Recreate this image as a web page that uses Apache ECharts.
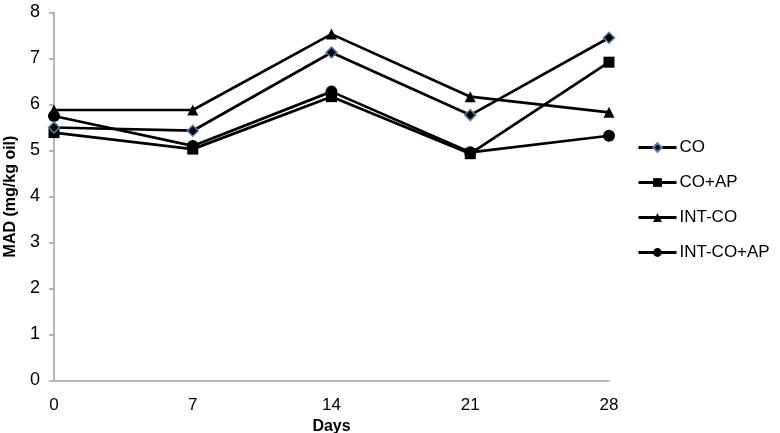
<!DOCTYPE html>
<html><head><meta charset="utf-8">
<script src="https://cdn.jsdelivr.net/npm/echarts@6/dist/echarts.min.js"></script>
<style>html,body{margin:0;padding:0;background:#fff}#c{width:780px;height:433px}</style>
</head><body><div id="c"></div>
<script>
const days = [0, 7, 14, 21, 28];
const seriesNames = ['CO', 'CO+AP', 'INT-CO', 'INT-CO+AP'];
const CO = [5.50, 5.43, 7.13, 5.77, 7.45];
const CO_AP = [5.39, 5.03, 6.17, 4.93, 6.92];
const INT_CO = [5.88, 5.88, 7.53, 6.17, 5.83];
const INT_CO_AP = [5.75, 5.10, 6.28, 4.96, 5.32];
const yTicks = [0, 1, 2, 3, 4, 5, 6, 7, 8];

const font = 'Liberation Sans, Arial, sans-serif';
const values = [CO, CO_AP, INT_CO, INT_CO_AP];
const symbols = ['diamond', 'rect', 'triangle', 'circle'];
const sizes = [11, 11, 11, 12];
const series = values.map((v, i) => ({
  name: seriesNames[i],
  type: 'line',
  data: v.map((y, j) => [days[j], y]),
  symbol: symbols[i],
  symbolSize: sizes[i],
  showSymbol: true,
  lineStyle: { color: '#000', width: 2.7 },
  itemStyle: i === 0 ? { color: '#000', borderColor: '#5b7fb5', borderWidth: 1.5 } : { color: '#000', borderWidth: 0 },
  emphasis: { disabled: true },
  animation: false,
  z: 10 - i
}));

const chart = echarts.init(document.getElementById('c'), null, { renderer: 'canvas' });
chart.setOption({
  backgroundColor: '#fff',
  animation: false,
  grid: { left: 54, right: 171, top: 12.5, bottom: 52.5, containLabel: false, outerBoundsMode: 'none' },
  legend: {
    orient: 'vertical',
    left: 632,
    top: 134,
    itemWidth: 38,
    itemHeight: 11,
    itemGap: 18,
    data: seriesNames,
    lineStyle: { width: 3, color: '#000' },
    textStyle: { fontFamily: font, fontSize: 17, color: '#000', padding: [0, 0, 0, -2] },
    selectedMode: false
  },
  xAxis: {
    type: 'value',
    min: 0, max: 28, interval: 7,
    name: 'Days',
    nameLocation: 'middle',
    nameGap: 34,
    nameTextStyle: { fontFamily: font, fontSize: 16, fontWeight: 'bold', color: '#000' },
    axisLine: { show: true, lineStyle: { color: '#a0a0a0', width: 1.5 } },
    axisTick: { show: false },
    splitLine: { show: false },
    axisLabel: { fontFamily: font, fontSize: 17, color: '#000', margin: 16,
      formatter: v => days.includes(v) ? String(v) : '' }
  },
  yAxis: {
    type: 'value',
    min: 0, max: 8, interval: 1,
    name: 'MAD (mg/kg oil)',
    nameLocation: 'middle',
    nameGap: 33,
    nameTextStyle: { fontFamily: font, fontSize: 16, fontWeight: 'bold', color: '#000' },
    axisLine: { show: true, lineStyle: { color: '#a0a0a0', width: 1.5 } },
    axisTick: { show: true, length: 5, lineStyle: { color: '#a0a0a0', width: 1.5 } },
    splitLine: { show: false },
    axisLabel: { fontFamily: font, fontSize: 18, color: '#000', margin: 14,
      formatter: v => yTicks.includes(v) ? String(v) : '' }
  },
  series: series
});
</script></body></html>
